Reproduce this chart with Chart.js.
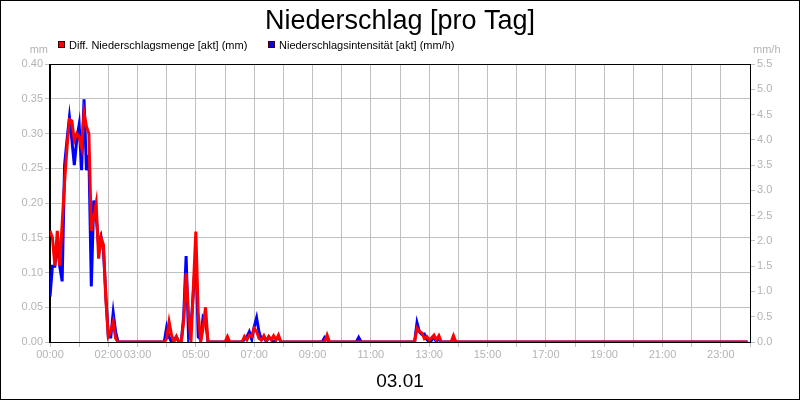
<!DOCTYPE html>
<html>
<head>
<meta charset="utf-8">
<title>Niederschlag</title>
<script src="https://cdn.jsdelivr.net/npm/chart.js@4.4.1/dist/chart.umd.min.js"></script>
<style>
  html, body { margin: 0; padding: 0; background: #fff; }
  #box { width: 800px; height: 400px; }
</style>
</head>
<body>
<div id="box"><canvas id="myChart"></canvas></div>
<script>
// 5-minute steps over the day (one row = one hour)
var rainAmount = [
    0.16, 0.15, 0.11, 0.16, 0.11, 0.17, 0.23, 0.28, 0.32, 0.318, 0.29, 0.30,
    0.295, 0.28, 0.33, 0.31, 0.30, 0.16, 0.18, 0.20, 0.12, 0.15, 0.14, 0.06,
    0.008, 0.015, 0.029, 0.005, 0, 0, 0, 0, 0, 0, 0, 0,
    0, 0, 0, 0, 0, 0, 0, 0, 0, 0, 0, 0,
    0.005, 0.029, 0.01, 0, 0.008, 0, 0, 0.03, 0.099, 0.04, 0, 0.08,
    0.159, 0.04, 0, 0.02, 0.05, 0, 0, 0, 0, 0, 0, 0,
    0, 0.008, 0, 0, 0, 0, 0, 0, 0.008, 0.003, 0.01, 0.008,
    0.02, 0.015, 0.005, 0.003, 0.009, 0.002, 0.008, 0.003, 0.009, 0.003, 0.01, 0,
    0, 0, 0, 0, 0, 0, 0, 0, 0, 0, 0, 0,
    0, 0, 0, 0, 0, 0, 0.01, 0, 0, 0, 0, 0,
    0, 0, 0, 0, 0, 0, 0, 0, 0, 0, 0, 0,
    0, 0, 0, 0, 0, 0, 0, 0, 0, 0, 0, 0,
    0, 0, 0, 0, 0, 0, 0, 0.02, 0.015, 0.013, 0.005, 0.008,
    0.003, 0.006, 0.01, 0.003, 0.009, 0, 0, 0, 0, 0, 0.009, 0,
    0, 0, 0, 0, 0, 0, 0, 0, 0, 0, 0, 0,
    0, 0, 0, 0, 0, 0, 0, 0, 0, 0, 0, 0,
    0, 0, 0, 0, 0, 0, 0, 0, 0, 0, 0, 0,
    0, 0, 0, 0, 0, 0, 0, 0, 0, 0, 0, 0,
    0, 0, 0, 0, 0, 0, 0, 0, 0, 0, 0, 0,
    0, 0, 0, 0, 0, 0, 0, 0, 0, 0, 0, 0,
    0, 0, 0, 0, 0, 0, 0, 0, 0, 0, 0, 0,
    0, 0, 0, 0, 0, 0, 0, 0, 0, 0, 0, 0,
    0, 0, 0, 0, 0, 0, 0, 0, 0, 0, 0, 0,
    0, 0, 0, 0, 0, 0, 0, 0, 0, 0, 0, 0
];

var rainRate = [
    0.9, 1.5, 1.5, 2.0, 1.5, 1.2, 3.5, 4.0, 4.45, 4.0, 3.5, 4.0,
    4.3, 3.4, 4.8, 3.4, 3.7, 1.1, 2.8, 2.5, 1.9, 2.08, 1.8, 0.9,
    0.1, 0.1, 0.58, 0.2, 0, 0, 0, 0, 0, 0, 0, 0,
    0, 0, 0, 0, 0, 0, 0, 0, 0, 0, 0, 0,
    0.29, 0.1, 0, 0.05, 0.1, 0, 0, 0.5, 1.7, 0.1, 0.3, 1.0,
    1.75, 0.1, 0.05, 0.5, 0.45, 0, 0, 0, 0, 0, 0, 0,
    0, 0.05, 0, 0, 0, 0, 0, 0, 0.05, 0.1, 0.2, 0.05,
    0.3, 0.48, 0.2, 0.05, 0.1, 0, 0.1, 0.05, 0, 0.05, 0.1, 0,
    0, 0, 0, 0, 0, 0, 0, 0, 0, 0, 0, 0,
    0, 0, 0, 0, 0, 0.09, 0.05, 0, 0, 0, 0, 0,
    0, 0, 0, 0, 0, 0, 0, 0.09, 0, 0, 0, 0,
    0, 0, 0, 0, 0, 0, 0, 0, 0, 0, 0, 0,
    0, 0, 0, 0, 0, 0, 0, 0.38, 0.2, 0.15, 0.16, 0.05,
    0, 0.03, 0.1, 0, 0.08, 0, 0, 0, 0, 0, 0.06, 0,
    0, 0, 0, 0, 0, 0, 0, 0, 0, 0, 0, 0,
    0, 0, 0, 0, 0, 0, 0, 0, 0, 0, 0, 0,
    0, 0, 0, 0, 0, 0, 0, 0, 0, 0, 0, 0,
    0, 0, 0, 0, 0, 0, 0, 0, 0, 0, 0, 0,
    0, 0, 0, 0, 0, 0, 0, 0, 0, 0, 0, 0,
    0, 0, 0, 0, 0, 0, 0, 0, 0, 0, 0, 0,
    0, 0, 0, 0, 0, 0, 0, 0, 0, 0, 0, 0,
    0, 0, 0, 0, 0, 0, 0, 0, 0, 0, 0, 0,
    0, 0, 0, 0, 0, 0, 0, 0, 0, 0, 0, 0,
    0, 0, 0, 0, 0, 0, 0, 0, 0, 0, 0, 0
];

// x tick labels, one per hour (00:00 .. 24:00)
var hourLabels = ["00:00", "", "02:00", "03:00", "", "05:00", "", "07:00", "", "09:00", "", "11:00", "",
                  "13:00", "", "15:00", "", "17:00", "", "19:00", "", "21:00", "", "23:00", ""];

var seriesNames = ["Diff. Niederschlagsmenge [akt] (mm)", "Niederschlagsintensität [akt] (mm/h)"];
var seriesColors = ["#ff0000", "#0000ff"];

var minutes = rainAmount.map(function(v, i) { return i * 5; });

var FONT = 'Arial, "Liberation Sans", sans-serif';
var GRAY = '#b4b4b4';

// title, legend, units, date and frame
var decor = {
    id: 'decor',
    beforeDraw: function(chart) {
        var c = chart.ctx;
        c.save();
        c.fillStyle = '#fff';
        c.fillRect(0, 0, chart.width, chart.height);
        c.restore();
    },
    beforeDatasetsDraw: function(chart) {
        var a = chart.chartArea, c = chart.ctx;
        c.save();
        c.strokeStyle = '#000';
        c.lineWidth = 1;
        c.strokeRect(Math.round(a.left) - 0.5, Math.round(a.top) + 0.5, Math.round(a.right - a.left) + 1, Math.round(a.bottom - a.top));
        c.restore();
    },
    afterDraw: function(chart) {
        var c = chart.ctx;
        c.save();
        c.fillStyle = '#000';
        c.textBaseline = 'alphabetic';
        c.textAlign = 'center';
        c.font = '27px ' + FONT;
        c.fillText('Niederschlag [pro Tag]', 400, 29);

        c.font = '19px ' + FONT;
        c.fillText('03.01', 400, 387);

        // legend
        var legX = [58, 268];
        c.font = '11px ' + FONT;
        c.textAlign = 'left';
        for (var i = 0; i < seriesNames.length; i++) {
            c.fillStyle = seriesColors[i];
            c.fillRect(legX[i], 41, 7, 7);
            c.strokeStyle = '#400000';
            c.lineWidth = 1;
            c.strokeRect(legX[i] + 0.5, 41.5, 6, 6);
            c.fillStyle = '#000';
            c.fillText(seriesNames[i], legX[i] + 11, 49);
        }

        // units
        c.fillStyle = GRAY;
        c.textAlign = 'right';
        c.fillText('mm', 48, 53);
        c.textAlign = 'left';
        c.fillText('mm/h', 753, 53);

        // outer frame
        c.strokeStyle = '#000';
        c.lineWidth = 1;
        c.strokeRect(0.5, 0.5, chart.width - 1, chart.height - 1);
        c.restore();
    }
};

var ctx = document.getElementById("myChart");
var myChart = new Chart(ctx, {
    type: 'line',
    data: {
        datasets: [
            {
                label: seriesNames[0],
                data: minutes.map(function(m, i) { return { x: m, y: rainAmount[i] }; }),
                borderColor: seriesColors[0],
                backgroundColor: seriesColors[0],
                borderWidth: 3,
                pointRadius: 0,
                tension: 0,
                yAxisID: 'y'
            },
            {
                label: seriesNames[1],
                data: minutes.map(function(m, i) { return { x: m, y: rainRate[i] }; }),
                borderColor: seriesColors[1],
                backgroundColor: seriesColors[1],
                borderWidth: 3,
                pointRadius: 0,
                tension: 0,
                yAxisID: 'y1'
            }
        ]
    },
    options: {
        responsive: true,
        maintainAspectRatio: false,
        animation: false,
        layout: { padding: { top: 64, left: 0, right: 0, bottom: 0 } },
        plugins: {
            legend: { display: false },
            title: { display: false },
            tooltip: { enabled: false }
        },
        scales: {
            x: {
                type: 'linear',
                min: 0,
                max: 1440,
                afterFit: function(s) { s.height = 58; },
                afterBuildTicks: function(s) {
                    s.ticks = hourLabels.map(function(l, h) { return { value: h * 60 }; });
                },
                ticks: {
                    autoSkip: false,
                    maxRotation: 0,
                    padding: 1,
                    color: GRAY,
                    font: { family: FONT, size: 11 },
                    callback: function(v) { return hourLabels[Math.round(v / 60)]; }
                },
                grid: { color: '#c0c0c0', tickColor: '#c0c0c0', tickLength: 5 },
                border: { color: '#000' }
            },
            y: {
                position: 'left',
                min: 0,
                max: 0.40,
                afterFit: function(s) { s.width = 50; },
                ticks: {
                    stepSize: 0.05,
                    padding: 2,
                    color: GRAY,
                    font: { family: FONT, size: 11 },
                    callback: function(v) { return v.toFixed(2); }
                },
                grid: { color: '#c0c0c0', tickColor: '#c0c0c0', tickLength: 5 },
                border: { color: '#000' }
            },
            y1: {
                position: 'right',
                min: 0,
                max: 5.5,
                afterFit: function(s) { s.width = 50; },
                ticks: {
                    stepSize: 0.5,
                    padding: 2,
                    color: GRAY,
                    font: { family: FONT, size: 11 },
                    callback: function(v) { return v.toFixed(1); }
                },
                grid: { drawOnChartArea: false, tickColor: '#c0c0c0', tickLength: 5 },
                border: { color: '#000' }
            }
        }
    },
    plugins: [decor]
});
</script>
</body>
</html>
